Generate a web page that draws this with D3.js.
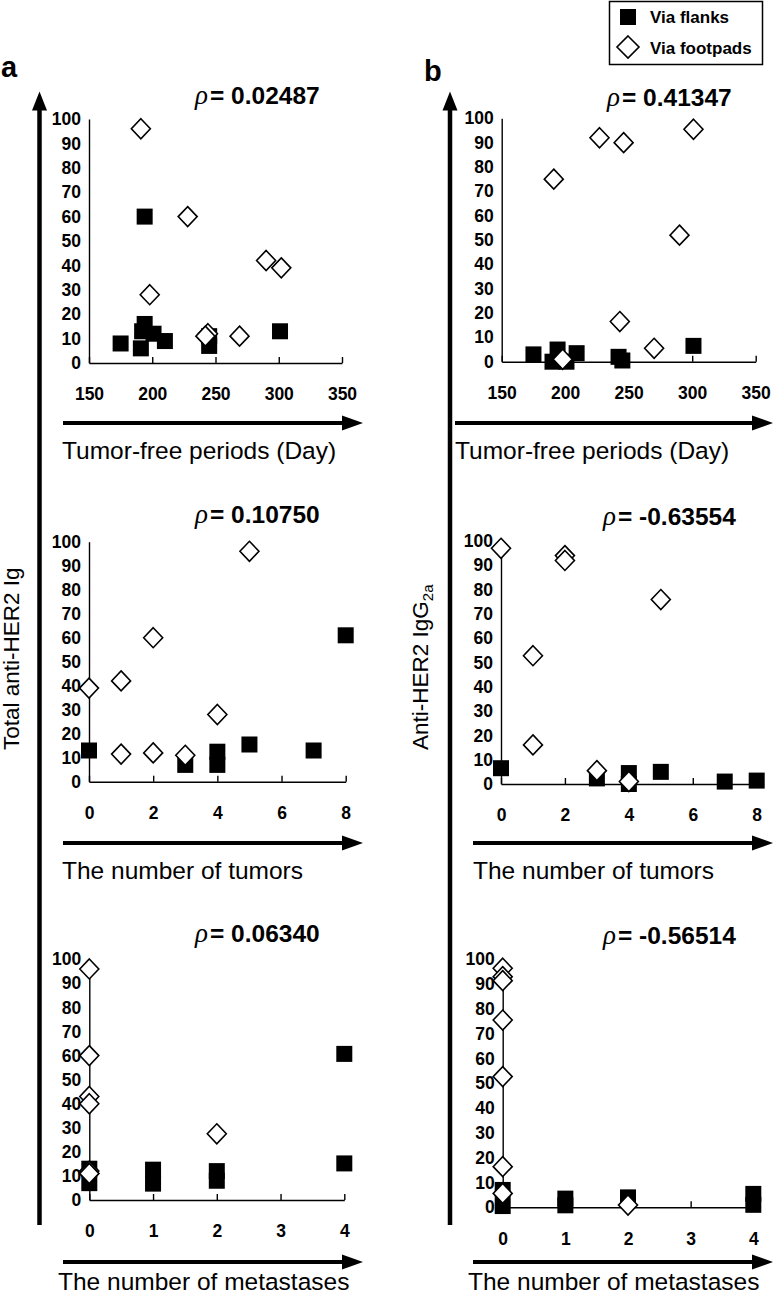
<!DOCTYPE html>
<html><head><meta charset="utf-8">
<script src="https://cdn.jsdelivr.net/npm/d3@7"></script>
<style>body{margin:0;background:#fff}svg{display:block}</style>
</head><body>
<svg id="c" width="774" height="1297"></svg>
<script>
// ---------- data ----------
const seriesNames = ["Via flanks", "Via footpads"];
const panelLetters = ["a", "b"];
const yTitleA = "Total anti-HER2 Ig";
const yTitleB = ["Anti-HER2 IgG", "2a"];
const xTitles = ["Tumor-free periods (Day)", "The number of tumors", "The number of metastases"];
const rhoA = ["0.02487", "0.10750", "0.06340"];
const rhoB = ["0.41347", "-0.63554", "-0.56514"];
const yTicks = [0, 10, 20, 30, 40, 50, 60, 70, 80, 90, 100];
const xTicksDays = [150, 200, 250, 300, 350];
const xTicksTumors = [0, 2, 4, 6, 8];
const xTicksMets = [0, 1, 2, 3, 4];

// Total anti-HER2 Ig
const igDaysFlanks = [[175,8],[191,6],[192,13],[194,16],[201,12],[210,9],[194,60],[245,11],[245,7],[301,13]];
const igDaysFootpads = [[191,96],[228,60],[198,28],[290,42],[302,39],[244,12],[242,11],[269,11]];
const igTumorsFlanks = [[0,13],[3,7],[4,12.5],[4,7],[5,15.5],[7,13],[8,61]];
const igTumorsFootpads = [[0,39],[1,42],[2,60],[5,96],[4,28],[1,11.5],[2,12],[3,11]];
const igMetsFlanks = [[0,13],[0,7],[1,12.6],[1,6.8],[2,12],[2,8],[4,60.7],[4,15.2]];
const igMetsFootpads = [[0,96],[0,60],[0,43],[0,40],[0,12],[0,11],[0,11],[2,27.5]];

// Anti-HER2 IgG2a
const g2aDaysFlanks = [[175,3],[194,5],[190,0],[201,0],[209,3.5],[242,2],[245,0.5],[301,6.5]];
const g2aDaysFootpads = [[191,75],[227,92],[246,90],[301,95.5],[290,52],[243,16.5],[270,5.5],[198,1]];
const g2aTumorsFlanks = [[0,6.5],[3,2.3],[4,4.5],[4,0],[5,5],[7,1],[8,1.4]];
const g2aTumorsFootpads = [[0,97],[1,52.8],[1,16.1],[2,94],[2,92],[5,75.9],[3,5.5],[4,1]];
const g2aMetsFlanks = [[0,7],[0,0.5],[1,3.5],[1,0.8],[2,4],[2,3],[4,5.4],[4,1]];
const g2aMetsFootpads = [[0,96.4],[0,93],[0,91.4],[0,75.5],[0,52.7],[0,16.4],[0,5.6],[2,0.9]];

// ---------- layout ----------
const FONT = "'Liberation Sans', Arial, Helvetica, sans-serif";
const svg = d3.select("#c");

const panels = [
  {x0:89,   x1:342,   yT:119,   yB:363,   dom:[150,350], ticks:xTicksDays,   fl:igDaysFlanks,   fp:igDaysFootpads,   rho:rhoA[0], rx:195, ry:104},
  {x0:89,   x1:345.7, yT:541.7, yB:781.7, dom:[0,8],     ticks:xTicksTumors, fl:igTumorsFlanks, fp:igTumorsFootpads, rho:rhoA[1], rx:195, ry:523},
  {x0:89.3, x1:344.3, yT:959.3, yB:1200,  dom:[0,4],     ticks:xTicksMets,   fl:igMetsFlanks,   fp:igMetsFootpads,   rho:rhoA[2], rx:195, ry:942},
  {x0:501.7,x1:755.7, yT:118.3, yB:361.7, dom:[150,350], ticks:xTicksDays,   fl:g2aDaysFlanks,  fp:g2aDaysFootpads,  rho:rhoB[0], rx:607, ry:106},
  {x0:501,  x1:756.7, yT:541,   yB:784,   dom:[0,8],     ticks:xTicksTumors, fl:g2aTumorsFlanks,fp:g2aTumorsFootpads,rho:rhoB[1], rx:603, ry:525},
  {x0:502.7,x1:753.3, yT:959.3, yB:1207.3,dom:[0,4],     ticks:xTicksMets,   fl:g2aMetsFlanks,  fp:g2aMetsFootpads,  rho:rhoB[2], rx:603, ry:944}
];

const SQ = 16;
const diamondPath = "M0,-10L9.5,0L0,10L-9.5,0Z";

panels.forEach(p => {
  const x = d3.scaleLinear().domain(p.dom).range([p.x0, p.x1]);
  const y = d3.scaleLinear().domain([0, 100]).range([p.yB, p.yT]);
  const g = svg.append("g");

  const xa = g.append("g").attr("transform", `translate(0,${p.yB})`)
    .call(d3.axisBottom(x).tickValues(p.ticks).tickFormat(d3.format("d"))
      .tickSize(-6).tickSizeOuter(0).tickPadding(25));
  const ya = g.append("g").attr("transform", `translate(${p.x0},0)`)
    .call(d3.axisLeft(y).tickValues(yTicks).tickFormat(d3.format("d"))
      .tickSize(0).tickSizeOuter(0).tickPadding(8));
  [xa, ya].forEach(a => {
    a.select(".domain").attr("stroke", "#000").attr("stroke-width", 1.4);
    a.selectAll(".tick line").attr("stroke", "#000").attr("stroke-width", 1.4);
    a.selectAll(".tick text").attr("fill", "#000").attr("font-family", FONT)
      .attr("font-weight", "bold").attr("font-size", 17.5);
  });

  g.append("g").selectAll("rect").data(p.fl).join("rect")
    .attr("x", d => x(d[0]) - SQ / 2).attr("y", d => y(d[1]) - SQ / 2)
    .attr("width", SQ).attr("height", SQ).attr("fill", "#000");

  g.append("g").selectAll("path").data(p.fp).join("path")
    .attr("d", diamondPath)
    .attr("transform", d => `translate(${x(d[0])},${y(d[1])})`)
    .attr("fill", "#fff").attr("stroke", "#000").attr("stroke-width", 1.6);

  const t = g.append("text").attr("x", p.rx).attr("y", p.ry)
    .attr("font-family", FONT).attr("font-size", 24.5).attr("font-weight", "bold");
  t.append("tspan").attr("font-family", "'Liberation Serif', 'DejaVu Serif', serif")
    .attr("font-style", "italic").attr("font-weight", "normal").attr("font-size", 27).text("\u03C1");
  t.append("tspan").attr("dx", 2).text("= " + p.rho);
});

// ---------- arrows ----------
function hArrow(xa, xb, yy) {
  svg.append("line").attr("x1", xa).attr("x2", xb - 18).attr("y1", yy).attr("y2", yy)
    .attr("stroke", "#000").attr("stroke-width", 4);
  svg.append("path").attr("d", `M${xb},${yy}L${xb - 21},${yy - 7.5}L${xb - 21},${yy + 7.5}Z`).attr("fill", "#000");
}
function vArrow(xx, ya, yb) {
  svg.append("line").attr("x1", xx).attr("x2", xx).attr("y1", ya + 16).attr("y2", yb)
    .attr("stroke", "#000").attr("stroke-width", 4.5);
  svg.append("path").attr("d", `M${xx},${ya}L${xx - 7.5},${ya + 19}L${xx + 7.5},${ya + 19}Z`).attr("fill", "#000");
}
vArrow(39.5, 91.5, 1225);
vArrow(450, 91.5, 1225);

const rowY = [423, 843, 1262];
const titleY = [459, 879, 1290];
const aStart = [62, 62, 58];
const bStart = [455, 473, 468];
rowY.forEach((yy, i) => {
  hArrow(63, 363, yy);
  hArrow(i === 0 ? 455 : 473, 773, yy);
  svg.append("text").attr("x", aStart[i]).attr("y", titleY[i]).attr("font-family", FONT)
    .attr("font-size", 24.5).attr("fill", "#000").text(xTitles[i]);
  svg.append("text").attr("x", bStart[i]).attr("y", titleY[i]).attr("font-family", FONT)
    .attr("font-size", 24.5).attr("fill", "#000").text(xTitles[i]);
});

// ---------- panel letters ----------
svg.append("text").attr("x", 1).attr("y", 77).attr("font-family", FONT).attr("font-weight", "bold")
  .attr("font-size", 29).text(panelLetters[0]);
svg.append("text").attr("x", 424).attr("y", 81).attr("font-family", FONT).attr("font-weight", "bold")
  .attr("font-size", 29).text(panelLetters[1]);

// ---------- y titles ----------
svg.append("text").attr("transform", "translate(19,750) rotate(-90)")
  .attr("font-family", FONT).attr("font-size", 22.5).text(yTitleA);
const yb = svg.append("text").attr("transform", "translate(428,750) rotate(-90)")
  .attr("font-family", FONT).attr("font-size", 22.5);
yb.append("tspan").text(yTitleB[0]);
yb.append("tspan").attr("font-size", 15).attr("dy", 5).text(yTitleB[1]);

// ---------- legend ----------
const lg = svg.append("g");
lg.append("rect").attr("x", 609.5).attr("y", 1.5).attr("width", 153).attr("height", 63)
  .attr("fill", "#fff").attr("stroke", "#000").attr("stroke-width", 1.5);
lg.append("rect").attr("x", 620).attr("y", 9).attr("width", SQ).attr("height", SQ).attr("fill", "#000");
lg.append("path").attr("d", "M0,-11L11,0L0,11L-11,0Z").attr("transform", "translate(628,47)")
  .attr("fill", "#fff").attr("stroke", "#000").attr("stroke-width", 1.6);
lg.append("text").attr("x", 650).attr("y", 23).attr("font-family", FONT).attr("font-weight", "bold")
  .attr("font-size", 17).text(seriesNames[0]);
lg.append("text").attr("x", 650).attr("y", 54).attr("font-family", FONT).attr("font-weight", "bold")
  .attr("font-size", 17).text(seriesNames[1]);
</script>
</body></html>
